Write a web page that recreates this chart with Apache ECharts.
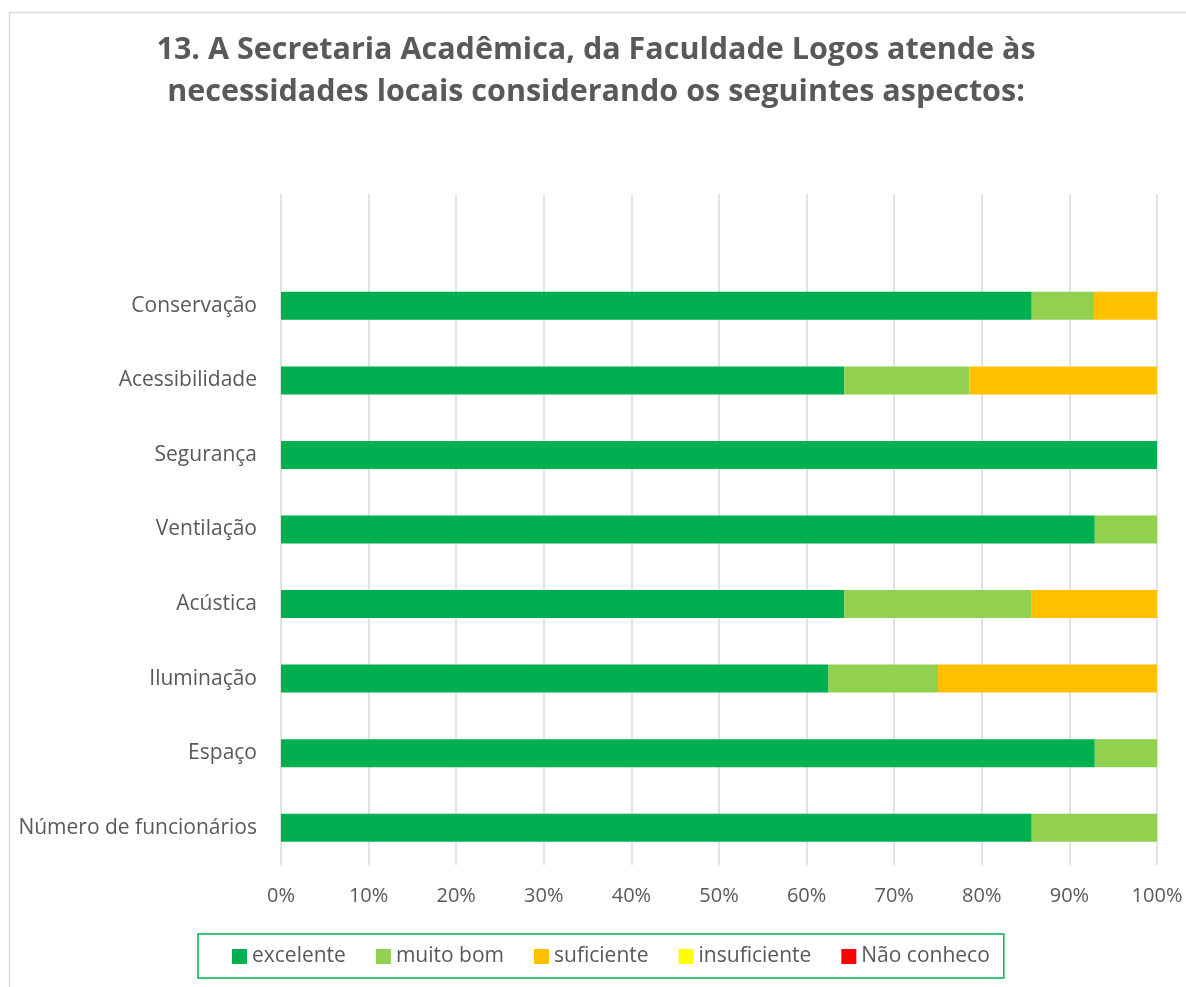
<!DOCTYPE html>
<html>
<head>
<meta charset="utf-8">
<script src="https://cdn.jsdelivr.net/npm/echarts@6/dist/echarts.min.js"></script>
<style>
  html, body { margin: 0; padding: 0; background: #fff; }
  #chart { width: 1186px; height: 987px; }
</style>
</head>
<body>
<div id="chart"></div>
<script>
// categories, bottom to top (Excel order); the top slot is empty in the original
var categories = ["Número de funcionários", "Espaço", "Iluminação", "Acústica",
  "Ventilação", "Segurança", "Acessibilidade", "Conservação", ""];

// percentages per answer
var excelente   = [85.7, 92.9, 62.5, 64.3, 92.9, 100, 64.3, 85.7, null];
var muitoBom    = [14.3, 7.1, 12.5, 21.4, 7.1, 0, 14.3, 7.1, null];
var suficiente  = [0, 0, 25.0, 14.3, 0, 0, 21.4, 7.2, null];
var insuficiente = [0, 0, 0, 0, 0, 0, 0, 0, null];
var naoConheco  = [0, 0, 0, 0, 0, 0, 0, 0, null];

var xTicks = [0, 10, 20, 30, 40, 50, 60, 70, 80, 90, 100];

var fontFamily = "'Open Sans', 'Noto Sans', sans-serif";
var textColor = "#595959";

function bar(name, data, color) {
  return {
    name: name,
    type: "bar",
    stack: "total",
    data: data,
    barWidth: 28,
    itemStyle: { color: color },
    emphasis: { disabled: true }
  };
}

var chart = echarts.init(document.getElementById("chart"), null, { renderer: "canvas" });
chart.setOption({
  animation: false,
  title: {
    text: "13. A Secretaria Acadêmica, da Faculdade Logos atende às\nnecessidades locais considerando os seguintes aspectos:",
    left: 591,
    textAlign: "center",
    top: 24,
    textStyle: {
      fontFamily: fontFamily,
      fontSize: 30.5,
      fontWeight: "bold",
      color: textColor,
      lineHeight: 42
    }
  },
  graphic: [{
    type: "rect",
    shape: { x: 9.5, y: 12.5, width: 1200, height: 1000 },
    style: { fill: null, stroke: "#d9d9d9", lineWidth: 1.5 },
    silent: true,
    z: -1
  }],
  legend: {
    left: 198,
    top: 934,
    padding: [12, 14, 11, 34],
    itemGap: 30,
    itemWidth: 15,
    itemHeight: 15,
    icon: "rect",
    borderColor: "#00b050",
    borderWidth: 1.5,
    textStyle: { fontFamily: fontFamily, fontSize: 21, color: textColor },
    data: ["excelente", "muito bom", "suficiente", "insuficiente", "Não conheco"]
  },
  grid: { left: 281, right: 29, top: 194, bottom: 122 },
  xAxis: {
    type: "value",
    min: 0,
    max: 100,
    interval: 10,
    axisLine: { show: false },
    axisTick: { show: false },
    axisLabel: {
      margin: 21,
      fontFamily: fontFamily,
      fontSize: 20,
      color: textColor,
      formatter: function (v) { return xTicks.indexOf(v) >= 0 ? v + "%" : ""; }
    },
    splitLine: { lineStyle: { color: "#d9d9d9", width: 1.5 } }
  },
  yAxis: {
    type: "category",
    data: categories,
    axisLine: { show: false },
    axisTick: { show: false },
    axisLabel: { margin: 24, fontFamily: fontFamily, fontSize: 21, color: textColor }
  },
  series: [
    bar("excelente", excelente, "#00b050"),
    bar("muito bom", muitoBom, "#92d050"),
    bar("suficiente", suficiente, "#ffc000"),
    bar("insuficiente", insuficiente, "#ffff00"),
    bar("Não conheco", naoConheco, "#ff0000")
  ]
});
</script>
</body>
</html>
